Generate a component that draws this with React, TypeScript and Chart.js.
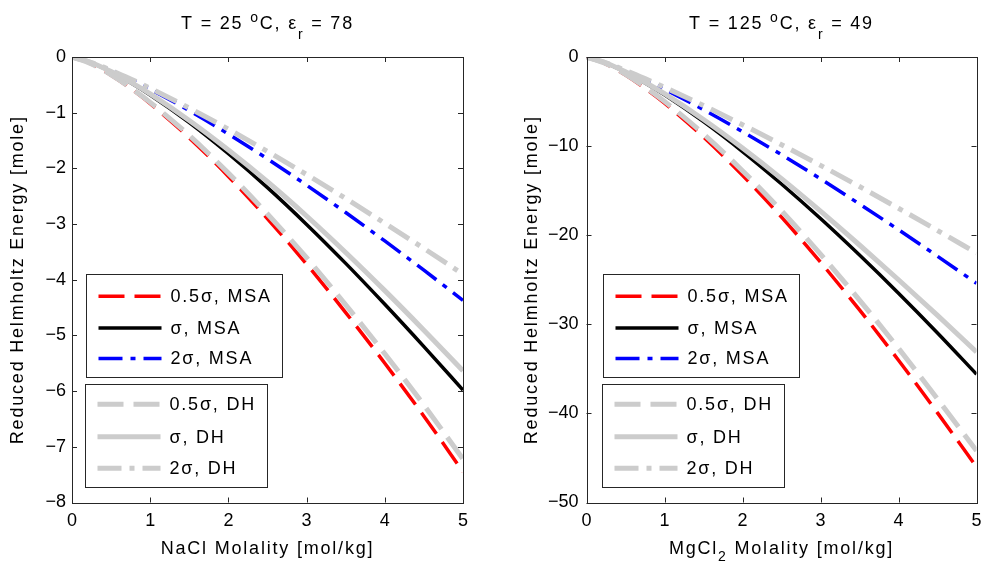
import React, { useEffect, useRef } from "react";
import { Chart, registerables } from "chart.js";

Chart.register(...registerables);

// ---------------- data ----------------
const molality = [0, 0.25, 0.5, 0.75, 1, 1.5, 2, 2.5, 3, 3.5, 4, 4.5, 5];
const xTickValues = [0, 1, 2, 3, 4, 5];

// NaCl, T = 25 C
const naclHalfMSA = [0, -0.127, -0.327, -0.566, -0.837, -1.452, -2.145, -2.905, -3.72, -4.59, -5.5, -6.45, -7.45];
const naclOneMSA = [0, -0.105, -0.267, -0.462, -0.681, -1.177, -1.736, -2.346, -3.006, -3.706, -4.441, -5.201, -5.98];
const naclTwoMSA = [0, -0.1, -0.242, -0.403, -0.579, -0.963, -1.383, -1.83, -2.301, -2.793, -3.303, -3.829, -4.37];
const naclHalfDH = [0, -0.125, -0.32, -0.553, -0.815, -1.41, -2.085, -2.82, -3.605, -4.45, -5.33, -6.25, -7.22];
const naclOneDH = [0, -0.103, -0.262, -0.451, -0.663, -1.14, -1.67, -2.24, -2.855, -3.51, -4.195, -4.905, -5.635];
const naclTwoDH = [0, -0.1, -0.238, -0.395, -0.563, -0.917, -1.296, -1.695, -2.111, -2.541, -2.985, -3.438, -3.9];

// MgCl2, T = 125 C
const mgHalfMSA = [0, -0.79, -2.02, -3.51, -5.18, -8.99, -13.28, -17.97, -23.03, -28.39, -34.03, -39.94, -46.0];
const mgOneMSA = [0, -0.68, -1.7, -2.91, -4.25, -7.26, -10.61, -14.25, -18.13, -22.23, -26.51, -30.97, -35.6];
const mgTwoMSA = [0, -0.66, -1.56, -2.55, -3.62, -5.91, -8.38, -10.97, -13.68, -16.5, -19.39, -22.36, -25.4];
const mgHalfDH = [0, -0.76, -1.94, -3.37, -4.98, -8.64, -12.76, -17.27, -22.13, -27.28, -32.7, -38.38, -44.2];
const mgOneDH = [0, -0.67, -1.66, -2.83, -4.12, -7.02, -10.22, -13.65, -17.3, -21.1, -25.0, -29.0, -33.1];
const mgTwoDH = [0, -0.65, -1.5, -2.43, -3.4, -5.44, -7.6, -9.84, -12.16, -14.54, -16.98, -19.47, -22.0];

const seriesLabels = ["0.5σ, MSA", "σ, MSA", "2σ, MSA", "0.5σ, DH", "σ, DH", "2σ, DH"];
const yLabelText = "Reduced Helmholtz Energy [mole]";

// ---------------- styles ----------------
const FONT = '"Liberation Sans", Arial, Helvetica, sans-serif';
const GRAY = "rgb(204,204,204)";
const AXIS = "#262626";
const SPACING = "1.8px";

const DASH = [26, 10];
const DASHDOT = [24, 8, 5, 8];

const lineStyles = [
  { color: "rgb(255,0,0)", width: 3.5, dash: DASH },
  { color: "rgb(0,0,0)", width: 3.5, dash: [] as number[] },
  { color: "rgb(0,0,255)", width: 3.5, dash: DASHDOT },
  { color: GRAY, width: 5, dash: DASH },
  { color: GRAY, width: 5, dash: [] as number[] },
  { color: GRAY, width: 5, dash: DASHDOT },
];

type Part = { t: string; m?: "sup" | "sub" };

interface PanelCfg {
  title: Part[];
  xLabel: Part[];
  yMin: number;
  yMax: number;
  yStep: number;
  series: number[][];
  yAxisWidth: number;
  yTickPad: number;
  padRight: number;
  legendDx: [number, number];
}

const leftCfg: PanelCfg = {
  title: [{ t: "T = 25 " }, { t: "o", m: "sup" }, { t: "C, ε" }, { t: "r", m: "sub" }, { t: " = 78" }],
  xLabel: [{ t: "NaCl Molality [mol/kg]" }],
  yMin: -8,
  yMax: 0,
  yStep: 1,
  series: [naclHalfMSA, naclOneMSA, naclTwoMSA, naclHalfDH, naclOneDH, naclTwoDH],
  yAxisWidth: 72,
  yTickPad: 6,
  padRight: 29,
  legendDx: [14, 13],
};

const rightCfg: PanelCfg = {
  title: [{ t: "T = 125 " }, { t: "o", m: "sup" }, { t: "C, ε" }, { t: "r", m: "sub" }, { t: " = 49" }],
  xLabel: [{ t: "MgCl" }, { t: "2", m: "sub" }, { t: " Molality [mol/kg]" }],
  yMin: -50,
  yMax: 0,
  yStep: 10,
  series: [mgHalfMSA, mgOneMSA, mgTwoMSA, mgHalfDH, mgOneDH, mgTwoDH],
  yAxisWidth: 94.5,
  yTickPad: 8,
  padRight: 8.5,
  legendDx: [16, 15],
};

const fmt = (v: number) => (v < 0 ? "\u2212" + Math.abs(v) : String(v));

function drawParts(ctx: CanvasRenderingContext2D, parts: Part[], cx: number, baseline: number, size: number, subDrop: number) {
  const small = Math.round(size * 0.75);
  const widths = parts.map((p) => {
    ctx.font = `${p.m ? small : size}px ${FONT}`;
    return ctx.measureText(p.t).width;
  });
  const total = widths.reduce((a, b) => a + b, 0);
  let x = cx - total / 2;
  ctx.textAlign = "left";
  ctx.textBaseline = "alphabetic";
  parts.forEach((p, i) => {
    ctx.font = `${p.m ? small : size}px ${FONT}`;
    const dy = p.m === "sup" ? -6.5 : p.m === "sub" ? subDrop : 0;
    ctx.fillText(p.t, x, baseline + dy);
    x += widths[i];
  });
}

function makeDecor(cfg: PanelCfg) {
  return {
    id: "decor",
    afterDraw(chart: any) {
      const ctx: CanvasRenderingContext2D = chart.ctx;
      const { left, right, top, bottom } = chart.chartArea;
      const xs = chart.scales.x;
      const ys = chart.scales.y;
      ctx.save();
      // inward ticks
      ctx.strokeStyle = AXIS;
      ctx.lineWidth = 1;
      ctx.setLineDash([]);
      ctx.beginPath();
      xs.ticks.forEach((t: any) => {
        const px = Math.round(xs.getPixelForValue(t.value)) + 0.5;
        ctx.moveTo(px, bottom);
        ctx.lineTo(px, bottom - 5);
        ctx.moveTo(px, top);
        ctx.lineTo(px, top + 5);
      });
      ys.ticks.forEach((t: any) => {
        const py = Math.round(ys.getPixelForValue(t.value)) + 0.5;
        ctx.moveTo(left, py);
        ctx.lineTo(left + 5, py);
        ctx.moveTo(right, py);
        ctx.lineTo(right - 5, py);
      });
      ctx.stroke();
      // box
      ctx.strokeRect(Math.round(left) + 0.5, Math.round(top) + 0.5, Math.round(right) - Math.round(left), Math.round(bottom) - Math.round(top));

      // texts
      (ctx as any).letterSpacing = SPACING;
      ctx.fillStyle = "#000";
      const cx = (left + right) / 2;
      drawParts(ctx, cfg.title, cx, top - 28.5, 18, 10.5);
      drawParts(ctx, cfg.xLabel, cx, 554, 18, 7);
      // y label
      ctx.save();
      ctx.translate(left - 54, (top + bottom) / 2);
      ctx.rotate(-Math.PI / 2);
      ctx.font = `18px ${FONT}`;
      ctx.textAlign = "center";
      ctx.textBaseline = "middle";
      ctx.fillText(yLabelText, 0, 0);
      ctx.restore();

      // legends
      ctx.font = `18px ${FONT}`;
      const groups = [
        { idx: [0, 1, 2], dx: cfg.legendDx[0], y: top + 216.5, rows: [21.7, 53.4, 84] },
        { idx: [3, 4, 5], dx: cfg.legendDx[1], y: top + 327, rows: [19.8, 52.2, 83.8] },
      ];
      groups.forEach((g) => {
        const maxW = Math.max(...g.idx.map((i) => ctx.measureText(seriesLabels[i]).width));
        const bx = Math.round(left + g.dx) + 0.5;
        const by = Math.round(g.y) + 0.5;
        const bw = Math.round(84 + maxW + 11);
        const bh = 103;
        ctx.fillStyle = "#fff";
        ctx.fillRect(bx, by, bw, bh);
        ctx.strokeStyle = AXIS;
        ctx.lineWidth = 1;
        ctx.setLineDash([]);
        ctx.strokeRect(bx, by, bw, bh);
        g.idx.forEach((i, r) => {
          const st = lineStyles[i];
          const yy = by + g.rows[r];
          ctx.strokeStyle = st.color;
          ctx.lineWidth = st.width;
          ctx.lineCap = "butt";
          ctx.setLineDash(st.dash);
          ctx.beginPath();
          ctx.moveTo(bx + 12, yy);
          ctx.lineTo(bx + 75, yy);
          ctx.stroke();
          ctx.setLineDash([]);
          ctx.fillStyle = "#000";
          ctx.textAlign = "left";
          ctx.textBaseline = "middle";
          ctx.fillText(seriesLabels[i], bx + 84, yy + 1);
        });
      });
      ctx.restore();
    },
  };
}

function Panel({ cfg, left, width }: { cfg: PanelCfg; left: number; width: number }) {
  const ref = useRef<HTMLCanvasElement>(null);
  useEffect(() => {
    const canvas = ref.current!;
    const datasets = cfg.series.map((arr, i) => ({
      label: seriesLabels[i],
      data: molality.map((x, k) => ({ x, y: arr[k] })),
      borderColor: lineStyles[i].color,
      borderWidth: lineStyles[i].width,
      borderDash: lineStyles[i].dash,
      borderCapStyle: "butt" as const,
      pointRadius: 0,
      fill: false,
      cubicInterpolationMode: "monotone" as const,
      order: i < 3 ? 1 : 0,
    }));
    const chart = new Chart(canvas, {
      type: "line",
      data: { datasets },
      options: {
        animation: false,
        responsive: false,
        devicePixelRatio: 1,
        layout: { padding: { left: 0, right: cfg.padRight, top: 57, bottom: 0 } },
        plugins: { legend: { display: false }, tooltip: { enabled: false }, title: { display: false } },
        scales: {
          x: {
            type: "linear",
            min: 0,
            max: 5,
            afterBuildTicks: (scale: any) => {
              scale.ticks = xTickValues.map((v) => ({ value: v }));
            },
            afterFit: (scale: any) => {
              scale.height = 59.5;
              scale.paddingLeft = 0;
              scale.paddingRight = 0;
            },
            ticks: {
              padding: 8,
              color: "#000",
              font: { family: FONT, size: 18 },
              maxRotation: 0,
              callback: (v: any) => fmt(Number(v)),
            },
            grid: { display: false, drawTicks: false },
            border: { display: false },
          },
          y: {
            type: "linear",
            min: cfg.yMin,
            max: cfg.yMax,
            ticks: {
              stepSize: cfg.yStep,
              padding: cfg.yTickPad,
              color: "#000",
              font: { family: FONT, size: 18 },
              callback: (v: any) => fmt(Number(v)),
            },
            afterFit: (scale: any) => {
              scale.width = cfg.yAxisWidth;
              scale.paddingTop = 0;
              scale.paddingBottom = 0;
            },
            grid: { display: false, drawTicks: false },
            border: { display: false },
          },
        },
      } as any,
      plugins: [makeDecor(cfg)],
    });
    return () => chart.destroy();
  }, []);
  return (
    <canvas
      ref={ref}
      width={width}
      height={562}
      style={{ position: "absolute", left, top: 0, width, height: 562 }}
    />
  );
}

export default function App() {
  return (
    <div style={{ position: "absolute", left: 0, top: 0, width: 985, height: 562, background: "#fff" }}>
      <Panel cfg={leftCfg} left={0} width={492} />
      <Panel cfg={rightCfg} left={492} width={493} />
    </div>
  );
}
